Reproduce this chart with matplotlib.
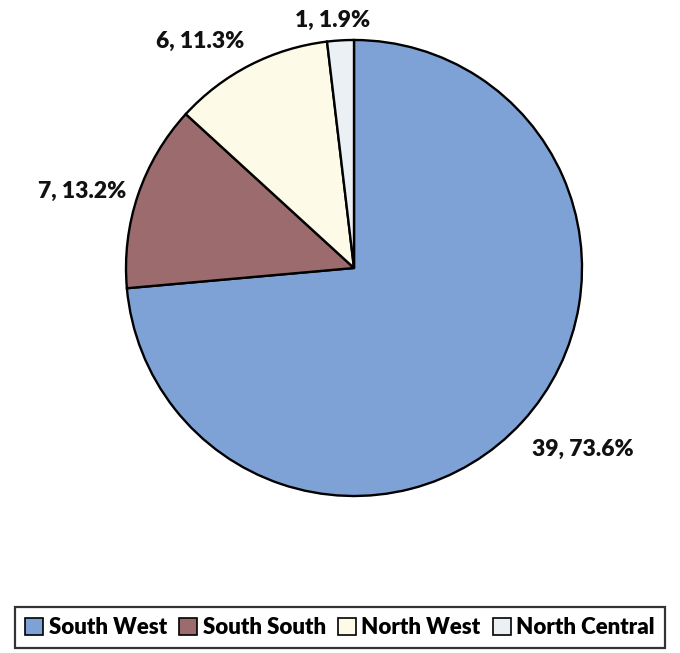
import numpy as np
import matplotlib

matplotlib.use("Agg")
import matplotlib.pyplot as plt
from matplotlib.patches import Patch

regions = ["South West", "South South", "North West", "North Central"]
counts = [39, 7, 6, 1]
percents = [73.6, 13.2, 11.3, 1.9]
colors = ["#7fa2d6", "#9c6b6d", "#fdfbe7", "#eaf0f4"]

# label placement per wedge: radial distance (in radii) and angle nudge (deg)
label_dist = [1.28, 1.24, 1.20, 1.09]
label_nudge = [4, 3, 7, 1.5]

plt.rcParams["font.family"] = ["Lato", "DejaVu Sans"]

W, H = 680, 653
cx, cy, R = 354, 268, 228
fig = plt.figure(figsize=(W / 100, H / 100), dpi=100)
ax = fig.add_axes([0, 0, 1, 1])

wedges, _ = ax.pie(counts, colors=colors, startangle=90, counterclock=False,
                   radius=1.0, wedgeprops=dict(edgecolor="black", linewidth=1.7))
ax.set_aspect("auto")
ax.set_xlim(-cx / R, (W - cx) / R)
ax.set_ylim(-(H - cy) / R, cy / R)
ax.axis("off")

for w, n, p, d, nudge in zip(wedges, counts, percents, label_dist, label_nudge):
    ang = np.deg2rad((w.theta1 + w.theta2) / 2 + nudge)
    ax.text(d * np.cos(ang), d * np.sin(ang), f"{n}, {p}%", ha="center", va="center",
            fontsize=16.5, fontweight="heavy", color="#111111")

handles = [Patch(facecolor=c, edgecolor="black", linewidth=1.2) for c in colors]
leg = fig.legend(handles, regions, loc="center", bbox_to_anchor=(0.5, 0.0386),
                 ncol=4, frameon=True, fancybox=False, edgecolor="black",
                 handlelength=0.8, handleheight=0.8, handletextpad=0.25,
                 columnspacing=0.55, borderpad=0.45, borderaxespad=0.2,
                 prop=dict(size=16, weight="heavy"))
leg.get_frame().set_linewidth(1.6)

fig.savefig("out.png", dpi=100)
